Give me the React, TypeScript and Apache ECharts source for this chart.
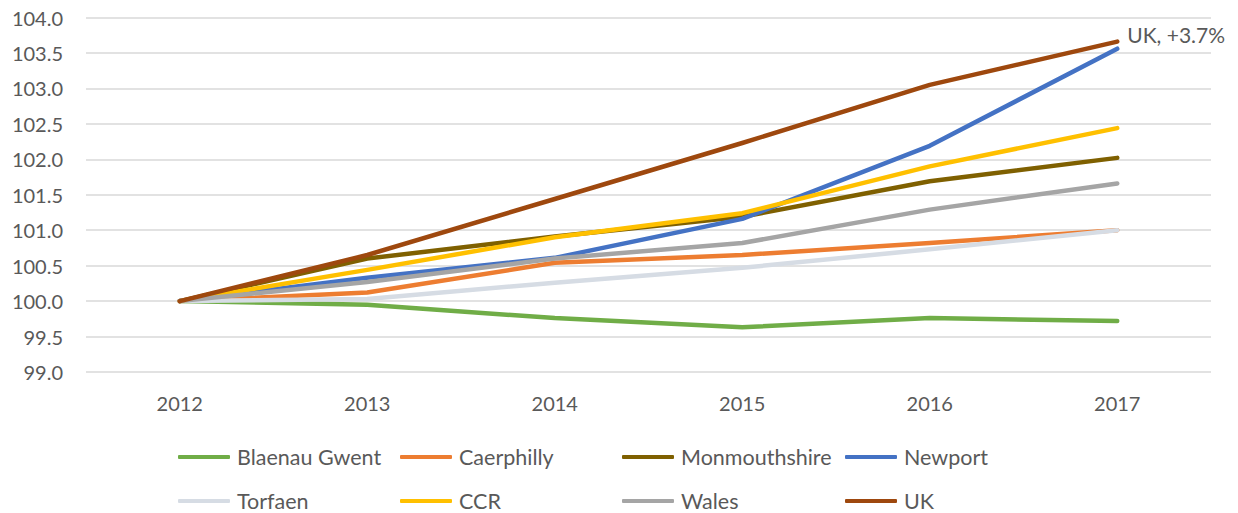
import React, { useEffect, useRef } from "react";
import * as echarts from "echarts";

const years = ["2012", "2013", "2014", "2015", "2016", "2017"];
const blaenauGwent = [100, 99.95, 99.76, 99.63, 99.76, 99.72];
const caerphilly = [100, 100.12, 100.54, 100.65, 100.82, 101.0];
const monmouthshire = [100, 100.6, 100.91, 101.19, 101.69, 102.02];
const newport = [100, 100.33, 100.61, 101.16, 102.19, 103.56];
const torfaen = [100, 100.03, 100.26, 100.47, 100.73, 101.0];
const ccr = [100, 100.44, 100.9, 101.24, 101.9, 102.44];
const wales = [100, 100.27, 100.6, 100.82, 101.29, 101.66];
const uk = [100, 100.65, 101.44, 102.23, 103.05, 103.66];
const ukLabel = "UK, +3.7%";

const seriesDefs = [
  { name: "Blaenau Gwent", data: blaenauGwent, color: "#70AD47" },
  { name: "Caerphilly", data: caerphilly, color: "#ED7D31" },
  { name: "Monmouthshire", data: monmouthshire, color: "#7F6000" },
  { name: "Newport", data: newport, color: "#4472C4" },
  { name: "Torfaen", data: torfaen, color: "#D6DCE4" },
  { name: "CCR", data: ccr, color: "#FFC000" },
  { name: "Wales", data: wales, color: "#A5A5A5" },
  { name: "UK", data: uk, color: "#9E480E" },
];

const FONT = "Lato, 'Open Sans', sans-serif";
const TEXT = "#595959";

export default function App() {
  const ref = useRef<HTMLDivElement>(null);
  useEffect(() => {
    if (!ref.current) return;
    const chart = echarts.init(ref.current, undefined, { renderer: "svg" });
    const legendLefts = [178, 400, 622, 845];
    const legendTops = [446, 490];
    const legends = seriesDefs.map((s, i) => ({
      data: [s.name],
      left: legendLefts[i % 4],
      top: legendTops[Math.floor(i / 4)],
      icon: "roundRect",
      itemWidth: 52,
      itemHeight: 4,
      itemGap: 0,
      padding: 0,
      selectedMode: false,
      textStyle: { color: TEXT, fontSize: 21.5, fontFamily: FONT, padding: [0, 0, 0, 2] },
    }));
    chart.setOption({
      animation: false,
      backgroundColor: "#fff",
      grid: { left: 86, right: 27, top: 17.5, bottom: 141, containLabel: false },
      legend: legends,
      xAxis: {
        type: "category",
        data: years,
        boundaryGap: true,
        axisLine: { show: false },
        axisTick: { show: false },
        axisLabel: { color: TEXT, fontSize: 20, fontFamily: FONT, margin: 21 },
      },
      yAxis: {
        type: "value",
        min: 99,
        max: 104,
        interval: 0.5,
        axisLine: { show: false },
        axisTick: { show: false },
        axisLabel: {
          color: TEXT,
          fontSize: 20,
          fontFamily: FONT,
          margin: 23,
          formatter: (v: number) => v.toFixed(1),
        },
        splitLine: { lineStyle: { color: "#D9D9D9", width: 1.5 } },
      },
      series: seriesDefs.map((s) => ({
        name: s.name,
        type: "line",
        data: s.data,
        showSymbol: false,
        symbol: "none",
        color: s.color,
        lineStyle: { color: s.color, width: 4.5, cap: "round", join: "round" },
        emphasis: { disabled: true },
        endLabel:
          s.name === "UK"
            ? {
                show: true,
                distance: 10,
                offset: [0, -7],
                formatter: ukLabel,
                color: TEXT,
                fontSize: 21,
                fontFamily: FONT,
              }
            : { show: false },
      })),
    });
    return () => chart.dispose();
  }, []);
  return (
    <div
      ref={ref}
      style={{ position: "fixed", left: 0, top: 0, width: 1238, height: 513 }}
    />
  );
}
